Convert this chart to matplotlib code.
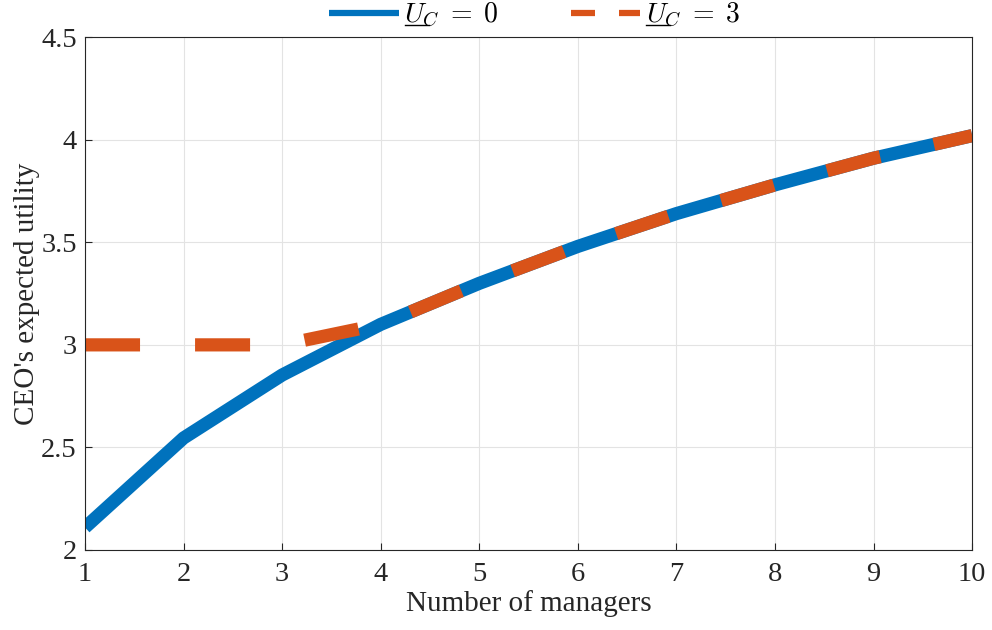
import matplotlib
matplotlib.use('Agg')
import matplotlib.pyplot as plt
from matplotlib.lines import Line2D

plt.rcParams['font.family'] = ['Liberation Serif', 'DejaVu Serif']
plt.rcParams['mathtext.fontset'] = 'cm'

# expected utility of the CEO vs number of managers
managers = [1, 2, 3, 4, 5, 6, 7, 8, 9, 10]
utility_u0 = [2.11, 2.546, 2.853, 3.10, 3.30, 3.48, 3.64, 3.78, 3.91, 4.02]
utility_u3 = [3.0, 3.0, 3.0, 3.10, 3.30, 3.48, 3.64, 3.78, 3.91, 4.02]
labels = [r'$U_C\;=\;0$', r'$U_C\;=\;3$']

blue, orange = '#0072BD', '#D95319'

fig = plt.figure(figsize=(9.92, 6.3), dpi=100)
ax = fig.add_axes([0.0857, 0.127, 0.8943, 0.814])

ax.plot(managers, utility_u0, color=blue, lw=9.5, solid_capstyle='butt')
ax.plot(managers, utility_u3, color=orange, lw=9.5, dashes=(4.17, 4.17),
        dash_capstyle='butt')

ax.set_xlim(1, 10)
ax.set_ylim(2, 4.5)
ax.set_xticks(range(1, 11))
ax.set_yticks([2, 2.5, 3, 3.5, 4, 4.5])
ax.set_yticklabels(['2', '2.5', '3', '3.5', '4', '4.5'])
ax.grid(True, color='#e3e3e3', lw=0.8)
ax.set_axisbelow(True)
ax.tick_params(direction='in', length=5, labelsize=20.5, top=False, right=False,
               colors='#262626', width=0.8)
ax.tick_params(axis='x', pad=9)
ax.tick_params(axis='y', pad=6)
for s in ax.spines.values():
    s.set_color('#262626')
    s.set_linewidth(0.8)

ax.set_xlabel('Number of managers', fontsize=21, color='#262626', labelpad=2)
ax.set_ylabel("CEO's expected utility", fontsize=21, color='#262626', labelpad=1)

# thinner legend handles than the plotted lines
handles = [Line2D([], [], color=blue, lw=4.5, solid_capstyle='butt'),
           Line2D([], [], color=orange, lw=4.5, dashes=(3.84, 3.84),
                  dash_capstyle='butt')]
leg = fig.legend(handles, labels, loc='center', bbox_to_anchor=(0.539, 0.976),
                 ncol=2, frameon=False, fontsize=20, handlelength=2.5,
                 columnspacing=2.6, borderaxespad=0, borderpad=0,
                 handletextpad=0.2)

# mathtext has no \underline, so draw the bar under U by hand
fig.canvas.draw()
r = fig.canvas.get_renderer()
inv = fig.transFigure.inverted()
for t in leg.get_texts():
    bb = t.get_window_extent(r)
    tmp = fig.text(0, 0, r'$U$', fontsize=20)
    uw = tmp.get_window_extent(r).width
    tmp.remove()
    y = bb.y0 + 0.14 * bb.height
    (fx0, fy), (fx1, _) = inv.transform([(bb.x0 + 0.5, y), (bb.x0 + uw + 1, y)])
    fig.add_artist(Line2D([fx0, fx1], [fy, fy], color='black', lw=1.0,
                          transform=fig.transFigure))

fig.savefig('out.png', dpi=100)
